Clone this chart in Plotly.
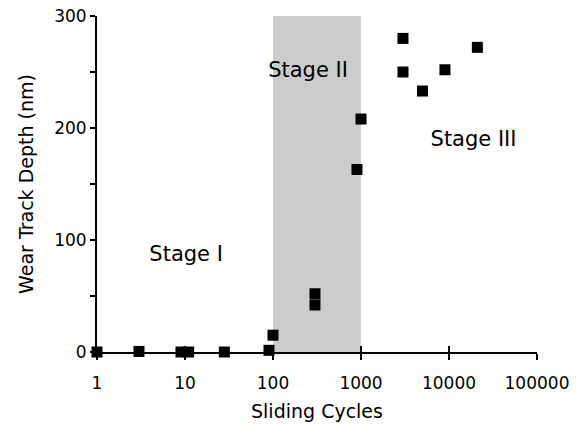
import plotly.graph_objects as go

# Data
cycles = [1, 3, 9, 11, 28, 90, 100, 300, 300, 900, 1000, 3000, 3000, 5000, 9000, 21000]
depth = [0, 0.5, 0, 0, 0, 1.5, 15, 52, 42, 163, 208, 280, 250, 233, 252, 272]

stage2_x = [100, 1000, 1000, 100, 100]
stage2_y = [0, 0, 301, 301, 0]

stage_labels = ["Stage I", "Stage II", "Stage III"]
stage_label_x = [10.3, 250, 19000]
stage_label_y = [86, 250, 189]

x_tickvals = [1, 10, 100, 1000, 10000, 100000]
x_ticktext = ["1", "10", "100", "1000", "10000", "100000"]
y_tickvals = [0, 100, 200, 300]

FONT = "DejaVu Sans"

fig = go.Figure()
fig.add_trace(go.Scatter(x=stage2_x, y=stage2_y, fill="toself", fillcolor="#cccccc",
                         line=dict(width=0), mode="lines", hoverinfo="skip",
                         cliponaxis=False, showlegend=False))
fig.add_trace(go.Scatter(x=cycles, y=depth, mode="markers",
                         marker=dict(symbol="square", size=11, color="black"),
                         cliponaxis=False, showlegend=False))
fig.add_trace(go.Scatter(x=[x_tickvals[0]], y=[y_tickvals[0]], xaxis="x2", yaxis="y2",
                         mode="markers", marker=dict(opacity=0), hoverinfo="skip", showlegend=False))
fig.add_trace(go.Scatter(x=stage_label_x, y=stage_label_y, mode="text", text=stage_labels,
                         textfont=dict(family=FONT, size=21, color="black"),
                         hoverinfo="skip", showlegend=False))

fig.update_layout(
    width=578, height=430,
    margin=dict(l=97, r=41, t=16, b=78),
    paper_bgcolor="white", plot_bgcolor="white",
    font=dict(family=FONT, size=16, color="black"),
    xaxis=dict(type="log", range=[0, 5], tickvals=x_tickvals, ticktext=x_ticktext,
               automargin=False, tickfont=dict(size=17), ticklabelstandoff=9,
               ticklabeloverflow="allow",
               showgrid=False, zeroline=False, showline=True, linecolor="black", linewidth=2,
               ticks="outside", ticklen=6, tickwidth=1.5, tickcolor="black",
               title=dict(text="Sliding Cycles", standoff=12, font=dict(family=FONT, size=19))),
    yaxis=dict(range=[0, 300], tickvals=y_tickvals, showgrid=False, zeroline=False,
               automargin=False, tickfont=dict(size=17), ticklabeloverflow="allow",
               showline=True, linecolor="black", linewidth=2,
               ticks="outside", ticklen=5, tickwidth=1.5, tickcolor="black",
               minor=dict(tickvals=[50, 150, 250], ticks="outside", ticklen=5,
                          tickwidth=1.5, tickcolor="black"),
               title=dict(text="Wear Track Depth (nm)", standoff=15, font=dict(family=FONT, size=19))),
    xaxis2=dict(type="log", range=[0, 5], overlaying="x", tickvals=x_tickvals,
                showticklabels=False, showgrid=False, zeroline=False, showline=False,
                automargin=False,
                ticks="inside", ticklen=6, tickwidth=1.5, tickcolor="black", side="bottom"),
    yaxis2=dict(range=[0, 300], overlaying="y", showticklabels=False, showgrid=False,
                automargin=False, zeroline=False, showline=False, ticks=""),
)

fig.write_html("out.html", config={"displayModeBar": False},
               post_script="document.body.style.margin='0';document.body.style.overflow='hidden';")
